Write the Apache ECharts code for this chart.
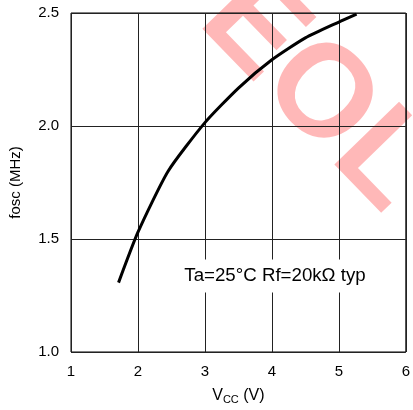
<!DOCTYPE html>
<html>
<head>
<meta charset="utf-8">
<script src="https://cdn.jsdelivr.net/npm/echarts@6/dist/echarts.min.js"></script>
<style>html,body{margin:0;padding:0;background:#fff}#c{width:413px;height:410px}</style>
</head>
<body>
<div id="c"></div>
<script>
var vcc = [1.71, 2.0, 2.45, 3.0, 3.5, 4.0, 4.5, 5.0, 5.265];
var fosc = [1.307, 1.53, 1.80, 2.015, 2.168, 2.293, 2.39, 2.46, 2.495];
var xTicks = [1, 2, 3, 4, 5, 6];
var yTicks = ['1.0', '1.5', '2.0', '2.5'];
var annotation = 'Ta=25°C Rf=20kΩ typ';
var watermark = 'EOL';

var chart = echarts.init(document.getElementById('c'), null, {renderer: 'canvas'});
var font = 'Liberation Sans, Arial, Helvetica, sans-serif';
chart.setOption({
  animation: false,
  backgroundColor: '#fff',
  grid: {left: 70, right: 3, top: 13, bottom: 57, show: true, borderColor: '#000', borderWidth: 1, backgroundColor: 'transparent'},
  xAxis: {
    type: 'value', min: xTicks[0], max: xTicks[xTicks.length - 1], interval: 1,
    axisLine: {show: false}, axisTick: {show: false},
    splitLine: {show: true, lineStyle: {color: '#222', width: 1}},
    axisLabel: {color: '#000', fontFamily: font, fontSize: 15, margin: 12,
      formatter: function (v) { return xTicks.indexOf(v) >= 0 ? String(v) : ''; }},
    name: '{a|V}{b|CC}{a| (V)}', nameLocation: 'middle', nameGap: 34,
    nameTextStyle: {rich: {
      a: {fontFamily: font, fontSize: 16, color: '#000'},
      b: {fontFamily: font, fontSize: 11, color: '#000', verticalAlign: 'bottom', padding: [8, 0, 0, 0]}
    }}
  },
  yAxis: {
    type: 'value', min: 1.0, max: 2.5, interval: 0.5,
    axisLine: {show: false}, axisTick: {show: false},
    splitLine: {show: true, lineStyle: {color: '#222', width: 1}},
    axisLabel: {color: '#000', fontFamily: font, fontSize: 15, margin: 12,
      formatter: function (v) { return yTicks[Math.round((v - 1.0) / 0.5)]; }},
    name: 'fosc (MHz)', nameLocation: 'middle', nameGap: 48,
    nameTextStyle: {fontFamily: font, fontSize: 15, color: '#000'}
  },
  graphic: [
    {type: 'text', x: 316, y: 94, rotation: -0.80, z: -10, silent: true,
     style: {text: watermark, font: 'bold 131px ' + font, fill: 'rgba(255,0,0,0.28)', textAlign: 'center', textVerticalAlign: 'middle'}},
    {type: 'text', x: 275, y: 276, z: 50,
     style: {text: annotation, font: '18.7px ' + font, fill: '#000', textAlign: 'center', textVerticalAlign: 'middle',
       backgroundColor: '#fff', padding: [7, 4, 7, 4]}}
  ],
  series: [{
    type: 'line', data: vcc.map(function (v, i) { return [v, fosc[i]]; }),
    smooth: 0.2, showSymbol: false, z: 20,
    lineStyle: {color: '#000', width: 3}
  }]
});
</script>
</body>
</html>
